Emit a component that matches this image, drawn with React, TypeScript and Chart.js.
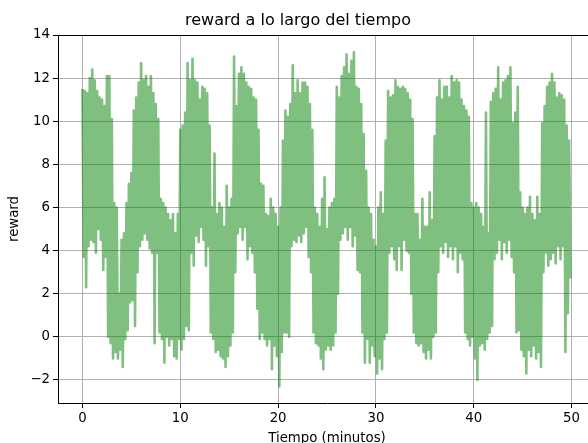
import { useEffect, useRef } from "react";
import { Chart, registerables } from "chart.js";

Chart.register(...registerables);

const TITLE = "reward a lo largo del tiempo";
const X_LABEL = "Tiempo (minutos)";
const Y_LABEL = "reward";

// minutes between consecutive samples
const STEP_MIN = 0.125;

// reward readings (alternating crest / trough of the noisy signal), every 0.125 min
const reward: number[] = [
  11.5, 3.7, 11.4, 2.3, 11.3, 4.2, 12.0, 4.5, 12.4, 4.4, 11.9, 3.9, 11.4, 5.0, 11.1, 4.5,
  11.0, 3.1, 10.7, 3.7, 12.1, 0.0, 12.1, -0.3, 10.1, -1.0, 6.2, -0.7, 6.0, -1.0, 2.0, -0.6,
  4.5, -1.4, 4.8, -0.1, 6.2, 0.3, 7.1, 1.6, 7.6, 1.7, 10.5, 0.5, 11.1, 3.0, 11.8, 4.2,
  12.7, 4.5, 11.9, 4.8, 12.1, 4.5, 11.6, 4.1, 12.1, 3.9, 11.3, -0.3, 10.8, 3.9, 10.1, 0.2,
  6.4, -0.1, 6.2, -1.2, 6.0, 0.0, 5.7, -0.4, 5.4, -0.1, 5.7, -0.9, 4.8, -1.0, 5.7, -0.1,
  9.6, -0.6, 9.8, -0.1, 10.4, 0.5, 12.7, 0.3, 11.9, 3.9, 12.9, 3.3, 11.9, 4.7, 11.8, 4.4,
  11.0, 5.1, 11.6, 4.5, 11.5, 3.3, 11.3, 4.2, 9.8, 0.2, 6.0, -0.1, 8.5, -0.7, 5.7, -0.6,
  6.2, -0.9, 6.0, -1.0, 5.1, -1.4, 7.0, -0.9, 6.0, -0.4, 6.4, 0.2, 13.0, 3.0, 10.7, 4.8,
  12.2, 5.1, 12.5, 4.5, 12.2, 5.1, 11.8, 3.6, 11.6, 4.2, 11.5, 3.9, 11.1, 3.0, 11.0, 1.3,
  9.6, -0.1, 7.1, 0.2, 7.0, -0.1, 5.7, -0.4, 5.6, -0.1, 6.4, -1.5, 6.0, -0.4, 5.7, -0.9,
  5.1, -2.3, 6.0, -0.7, 9.1, 0.2, 10.5, 0.2, 10.2, 0.0, 10.8, 4.2, 12.6, 4.5, 11.3, 4.4,
  11.9, 4.7, 11.3, 4.4, 11.8, 4.8, 11.8, 5.1, 11.6, 3.7, 10.8, 3.0, 9.6, 0.2, 6.0, -0.3,
  5.7, -0.4, 5.1, -1.0, 6.4, -1.5, 7.4, -0.6, 5.0, -0.4, 6.0, -0.6, 6.2, -0.4, 6.4, 0.2,
  11.6, 2.0, 11.1, 4.5, 12.1, 4.8, 12.5, 5.1, 13.1, 4.5, 12.2, 5.1, 12.8, 4.2, 13.2, 4.7,
  11.6, 3.1, 11.5, 3.0, 10.8, 0.2, 9.4, -1.2, 7.7, -0.1, 6.0, -1.2, 5.7, -0.4, 4.5, -0.9,
  4.2, -1.7, 6.0, -1.0, 6.7, -1.5, 5.7, -0.1, 9.1, 0.2, 11.4, 3.9, 11.1, 4.2, 11.2, 3.6,
  11.9, 3.1, 11.6, 4.2, 11.5, 3.1, 11.6, 4.5, 11.5, 4.0, 11.3, 3.9, 11.0, 2.0, 10.1, 0.2,
  5.7, -0.3, 5.7, -0.4, 4.5, -0.3, 6.4, -0.7, 5.1, -1.0, 5.1, -0.6, 6.7, -1.0, 5.4, 0.0,
  9.3, 0.2, 11.1, 3.0, 11.9, 4.2, 11.0, 3.9, 11.6, 4.4, 11.6, 3.7, 11.1, 4.2, 12.1, 3.6,
  11.8, 4.2, 11.9, 3.0, 11.8, 3.9, 11.0, 3.6, 10.7, 0.2, 10.5, -0.1, 10.2, -0.4, 6.2, 0.0,
  6.0, -1.0, 6.2, -2.0, 6.0, -0.4, 5.7, -0.3, 5.1, -0.6, 10.4, -0.1, 4.8, 0.2, 10.9, 0.5,
  11.3, 3.6, 11.5, 3.9, 12.5, 4.5, 11.0, 3.6, 11.8, 4.4, 11.9, 3.9, 12.1, 4.5, 12.5, 3.7,
  9.9, 3.0, 10.4, 0.2, 11.6, 0.3, 6.7, -0.6, 6.0, -0.9, 5.7, -1.7, 6.0, -0.6, 6.5, -0.9,
  5.7, -0.4, 5.4, -1.0, 6.5, -0.7, 5.7, -1.4, 9.9, 3.0, 10.7, 3.9, 11.6, 3.3, 11.8, 3.6,
  12.2, 3.9, 11.8, 3.4, 11.1, 4.2, 11.3, 3.6, 11.2, 4.2, 11.0, -0.7, 9.8, 1.1, 9.1, 2.7,
];

const X_TICKS = [0, 10, 20, 30, 40, 50];
const Y_TICKS = [-2, 0, 2, 4, 6, 8, 10, 12, 14];
const X_MIN = -2.5;
const X_MAX = 52.5;
const Y_MIN = -3.07;
const Y_MAX = 14;

const FONT = "'DejaVu Sans', sans-serif";
const fmt = (v: number) => (v < 0 ? "\u2212" + Math.abs(v) : String(v));

const frame = {
  id: "frame",
  afterDatasetsDraw(chart: any) {
    const { ctx, chartArea } = chart;
    ctx.save();
    ctx.strokeStyle = "#000";
    ctx.lineWidth = 1;
    ctx.beginPath();
    ctx.moveTo(chartArea.left, Math.round(chartArea.top) + 0.5);
    ctx.lineTo(chartArea.right, Math.round(chartArea.top) + 0.5);
    ctx.stroke();
    ctx.restore();
  },
};

export default function App() {
  const ref = useRef<HTMLCanvasElement | null>(null);

  useEffect(() => {
    document.body.style.margin = "0";
    document.body.style.overflow = "hidden";
    const canvas = ref.current;
    if (!canvas) return;
    const points = reward.map((y, i) => ({ x: i * STEP_MIN, y }));
    const chart = new Chart(canvas, {
      type: "line",
      data: {
        datasets: [
          {
            label: Y_LABEL,
            data: points,
            borderColor: "rgba(0,128,0,0.5)",
            borderWidth: 2.6,
            borderJoinStyle: "round",
            pointRadius: 0,
            tension: 0,
            fill: false,
          },
        ],
      },
      options: {
        animation: false,
        responsive: false,
        devicePixelRatio: 1,
        layout: { padding: { left: 0, right: 58, top: 0, bottom: 0 } },
        plugins: {
          legend: { display: false },
          tooltip: { enabled: false },
          title: {
            display: true,
            text: TITLE,
            color: "#000",
            font: { family: FONT, size: 16, weight: "normal" },
            padding: { top: 11, bottom: 4.8 },
          },
        },
        scales: {
          x: {
            type: "linear",
            min: X_MIN,
            max: X_MAX,
            afterBuildTicks: (s: any) => {
              s.ticks = X_TICKS.map((v) => ({ value: v }));
            },
            afterFit: (s: any) => {
              s.height = 49;
            },
            ticks: {
              color: "#000",
              font: { family: FONT, size: 13.3 },
              padding: 3,
              maxRotation: 0,
              callback: (v: any) => fmt(Number(v)),
            },
            grid: {
              color: "#b0b0b0",
              lineWidth: 1,
              tickLength: 5,
              tickColor: "#000",
            },
            border: { display: true, color: "#000", width: 1 },
            title: {
              display: true,
              text: X_LABEL,
              color: "#000",
              font: { family: FONT, size: 13.3 },
              padding: { top: 0, bottom: 5 },
            },
          },
          y: {
            type: "linear",
            min: Y_MIN,
            max: Y_MAX,
            afterBuildTicks: (s: any) => {
              s.ticks = Y_TICKS.map((v) => ({ value: v }));
            },
            afterFit: (s: any) => {
              s.width = 58;
            },
            ticks: {
              color: "#000",
              font: { family: FONT, size: 13.3 },
              padding: 3,
              callback: (v: any) => fmt(Number(v)),
            },
            grid: {
              color: "#b0b0b0",
              lineWidth: 1,
              tickLength: 5,
              tickColor: "#000",
            },
            border: { display: true, color: "#000", width: 1 },
            title: {
              display: true,
              text: Y_LABEL,
              color: "#000",
              font: { family: FONT, size: 13.3 },
              padding: { top: 7, bottom: 0 },
            },
          },
        },
      },
      plugins: [frame],
    });
    return () => chart.destroy();
  }, []);

  return (
    <div style={{ width: 654, height: 452 }}>
      <canvas ref={ref} width={654} height={452} style={{ display: "block", width: 654, height: 452 }} />
    </div>
  );
}
